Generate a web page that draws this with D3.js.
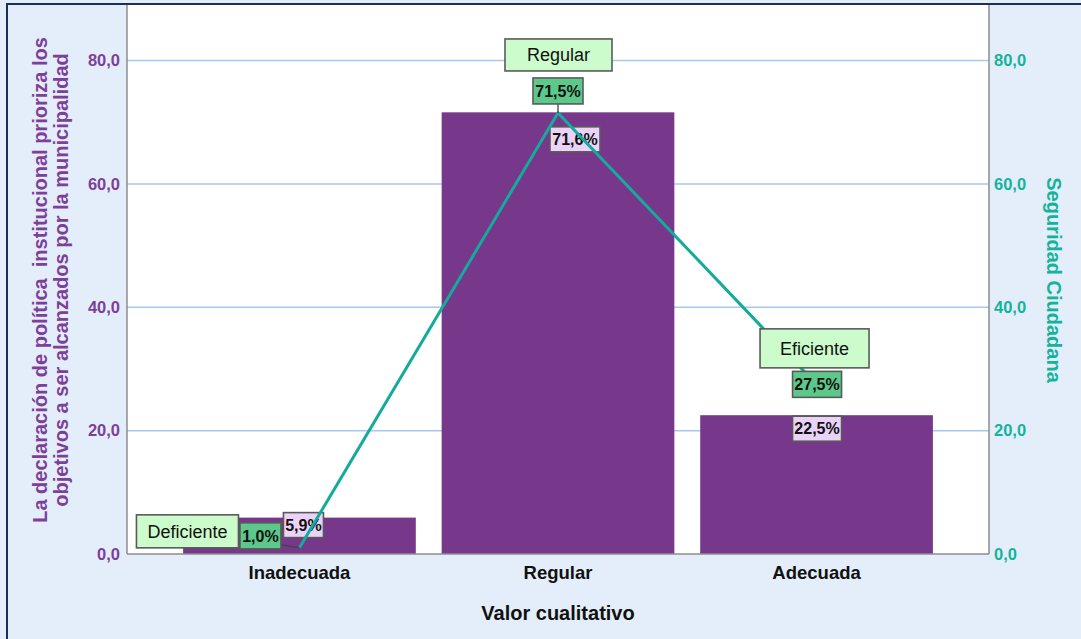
<!DOCTYPE html>
<html>
<head>
<meta charset="utf-8">
<script src="https://cdn.jsdelivr.net/npm/d3@7"></script>
<style>
  body { margin: 0; background: #fff; }
  svg { display: block; font-family: "Liberation Sans", Arial, sans-serif; }
</style>
</head>
<body>
<div class="chart"></div>
<script>
var categories = ["Inadecuada", "Regular", "Adecuada"];
var barValues = [5.9, 71.6, 22.5];
var lineValues = [1.0, 71.5, 27.5];
var lineCategories = ["Deficiente", "Regular", "Eficiente"];
var yTicks = [0, 20, 40, 60, 80];

var width = 1081, height = 639;
var margin = {top: 5, right: 92, bottom: 85, left: 127};
var plotW = width - margin.left - margin.right,
    plotH = height - margin.top - margin.bottom;
var FONT = "'Liberation Sans', Arial, sans-serif";

var svg = d3.select(".chart").append("svg").attr("width", width).attr("height", height);

// background + frame
svg.append("rect").attr("width", width).attr("height", height).attr("fill", "#e3eefa");
svg.append("rect").attr("x", 7).attr("y", 4).attr("width", width + 10).attr("height", height + 10)
    .attr("fill", "none").attr("stroke", "#1c2f5c").attr("stroke-width", 2);

var g = svg.append("g").attr("transform", "translate(" + margin.left + "," + margin.top + ")");

g.append("rect").attr("width", plotW).attr("height", plotH).attr("fill", "#fff");

var x = d3.scaleBand().domain(categories).range([0, plotW]).paddingInner(0.1).paddingOuter(0.217);
var y = d3.scaleLinear().domain([0, 89]).range([plotH, 0]);

// grid
g.selectAll(".grid").data(yTicks.slice(1)).enter().append("line")
    .attr("x1", 0).attr("x2", plotW)
    .attr("y1", function(d) { return y(d); }).attr("y2", function(d) { return y(d); })
    .attr("stroke", "#a6c8ef").attr("stroke-width", 1.5);

// bars
g.selectAll(".bar").data(barValues).enter().append("rect")
    .attr("x", function(d, i) { return x(categories[i]); })
    .attr("y", function(d) { return y(d); })
    .attr("width", x.bandwidth())
    .attr("height", function(d) { return plotH - y(d); })
    .attr("fill", "#77378b");

// axis lines
g.append("line").attr("x1", 0).attr("x2", 0).attr("y1", 0).attr("y2", plotH).attr("stroke", "#8c8c8c").attr("stroke-width", 1.5);
g.append("line").attr("x1", plotW).attr("x2", plotW).attr("y1", 0).attr("y2", plotH).attr("stroke", "#8c8c8c").attr("stroke-width", 1.5);
g.append("line").attr("x1", 0).attr("x2", plotW).attr("y1", plotH).attr("y2", plotH).attr("stroke", "#8c8c8c").attr("stroke-width", 1.5);

var fmt = function(v) { return v.toFixed(1).replace(".", ","); };

// y axes
var yLeft = g.append("g").call(d3.axisLeft(y).tickValues(yTicks).tickSize(0).tickPadding(7).tickFormat(fmt));
yLeft.select(".domain").remove();
yLeft.selectAll("text").attr("fill", "#7e3f98").attr("font-size", 16.5).attr("font-weight", "bold")
    .attr("font-family", FONT);

var yRight = g.append("g").attr("transform", "translate(" + plotW + ",0)")
    .call(d3.axisRight(y).tickValues(yTicks).tickSize(0).tickPadding(5).tickFormat(fmt));
yRight.select(".domain").remove();
yRight.selectAll("text").attr("fill", "#14b39c").attr("font-size", 16.5).attr("font-weight", "bold")
    .attr("font-family", FONT);

// x axis
var xAxis = g.append("g").attr("transform", "translate(0," + plotH + ")")
    .call(d3.axisBottom(x).tickSize(0).tickPadding(12));
xAxis.select(".domain").remove();
xAxis.selectAll("text").attr("fill", "#111").attr("font-size", 18.5).attr("font-weight", "bold")
    .attr("font-family", FONT);

// titles
svg.append("text").attr("x", margin.left + x("Regular") + x.bandwidth() / 2).attr("y", 620)
    .attr("text-anchor", "middle").attr("font-size", 20).attr("font-weight", "bold").attr("fill", "#111")
    .text("Valor cualitativo");

var leftTitle = svg.append("text").attr("transform", "translate(47,280) rotate(-90)")
    .attr("text-anchor", "middle").attr("font-size", 20).attr("font-weight", "bold").attr("fill", "#7e3f98");
leftTitle.append("tspan").attr("x", 0).attr("dy", 0).text("La declaración de política  institucional prioriza los")
    .attr("xml:space", "preserve").style("white-space", "pre");
leftTitle.append("tspan").attr("x", 0).attr("dy", 21).text("objetivos a ser alcanzados por la municipalidad");

svg.append("text").attr("transform", "translate(1047,280) rotate(90)")
    .attr("text-anchor", "middle").attr("font-size", 20).attr("font-weight", "bold").attr("fill", "#14b39c")
    .text("Seguridad Ciudadana");

function cx(i) { return x(categories[i]) + x.bandwidth() / 2; }

// label box helper
function box(parent, xc, yc, w, h, fill, txt, bold, size) {
    var b = parent.append("g");
    b.append("rect").attr("x", xc - w / 2).attr("y", yc - h / 2).attr("width", w).attr("height", h)
        .attr("fill", fill).attr("stroke", "#5a5a5a").attr("stroke-width", 1.6);
    b.append("text").attr("x", xc).attr("y", yc).attr("dy", "0.36em").attr("text-anchor", "middle")
        .attr("font-size", size).attr("font-weight", bold ? "bold" : "normal").attr("fill", "#111")
        .text(txt);
    return b;
}

// bar labels (offsets mimic the collision placement of the original)
var barLabelOffset = [[4, 7.5], [17, 27], [0.5, 13.5]];
var barLabelW = [40, 50, 49];
barValues.forEach(function(v, i) {
    box(g, cx(i) + barLabelOffset[i][0], y(v) + barLabelOffset[i][1], barLabelW[i], 25, "#ead3f6", fmt(v) + "%", true, 16);
});

// line
var line = d3.line().x(function(d, i) { return cx(i); }).y(function(d) { return y(d); });
g.append("path").datum(lineValues).attr("d", line).attr("fill", "none")
    .attr("stroke", "#14aa9c").attr("stroke-width", 3);

// line labels
var lineLabelOffset = [[-39, -12], [0, -22], [0.5, 0]];
var lineLabelW = [41, 50, 49];
var catBoxOffset = [[-112, -16.5], [0.5, -58], [-2, -36]];
var catBoxW = [102, 107, 109];
var catBoxH = [33, 32, 39];
lineValues.forEach(function(v, i) {
    var px = cx(i), py = y(v);
    var lx = px + lineLabelOffset[i][0], ly = py + lineLabelOffset[i][1];
    var ex = i === 0 ? lx + lineLabelW[i] / 2 + 1 : lx,
        ey = i === 0 ? ly + 9 : ly + 13;
    g.append("line").attr("x1", px).attr("y1", py).attr("x2", ex).attr("y2", ey)
        .attr("stroke", "#444").attr("stroke-width", 1.3);
    box(g, lx, ly, lineLabelW[i], 26, "#5cc98a", fmt(v) + "%", true, 16);
    box(g, px + catBoxOffset[i][0], py + catBoxOffset[i][1], catBoxW[i], catBoxH[i], "#ccfccc", lineCategories[i], false, 18);
});
</script>
</body>
</html>
